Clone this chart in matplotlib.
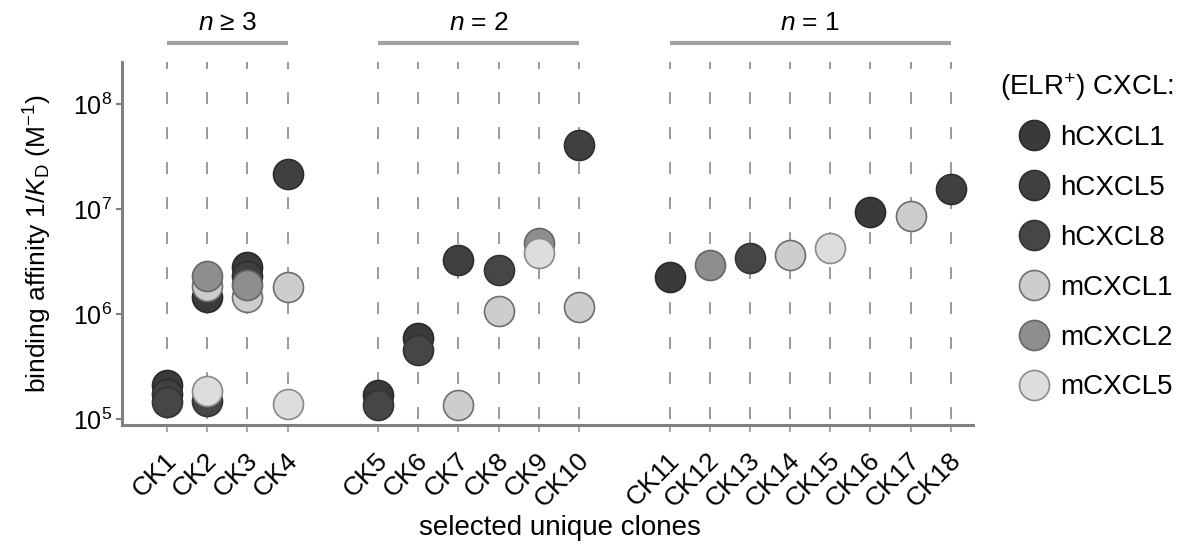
import numpy as np
import matplotlib
matplotlib.use("Agg")
import matplotlib.pyplot as plt
import matplotlib.transforms as mtransforms
from matplotlib.lines import Line2D

plt.rcParams['font.family'] = ['Liberation Sans', 'DejaVu Sans']
plt.rcParams['mathtext.fontset'] = 'custom'
plt.rcParams['mathtext.rm'] = 'Liberation Sans'
plt.rcParams['mathtext.it'] = 'Liberation Sans:italic'
plt.rcParams['lines.scale_dashes'] = False

nan = np.nan

clones = ["CK1", "CK2", "CK3", "CK4",
          "CK5", "CK6", "CK7", "CK8", "CK9", "CK10",
          "CK11", "CK12", "CK13", "CK14", "CK15", "CK16", "CK17", "CK18"]
group_sizes = [4, 6, 8]
group_labels = ["$n$ ≥ 3", "$n$ = 2", "$n$ = 1"]

# 1/KD (M^-1) per chemokine, one entry per clone
hCXCL1 = [2.1e5, 1.45e6, 2.8e6, nan, 1.7e5, 5.9e5, nan, nan, nan, nan,
          2.25e6, nan, nan, nan, nan, 9.3e6, nan, nan]
hCXCL5 = [1.75e5, nan, 2.3e6, 2.15e7, nan, nan, 3.3e6, nan, nan, 4.1e7,
          nan, nan, nan, nan, nan, nan, nan, 1.55e7]
hCXCL8 = [1.45e5, 1.5e5, nan, nan, 1.36e5, 4.5e5, nan, 2.6e6, nan, nan,
          nan, nan, 3.4e6, nan, nan, nan, nan, nan]
mCXCL1 = [nan, 1.85e6, 1.45e6, 1.8e6, nan, nan, 1.35e5, 1.07e6, nan, 1.17e6,
          nan, nan, nan, 3.65e6, nan, nan, 8.6e6, nan]
mCXCL2 = [nan, 2.3e6, 1.9e6, nan, nan, nan, nan, nan, 4.75e6, nan,
          nan, 2.9e6, nan, nan, nan, nan, nan, nan]
mCXCL5 = [nan, 1.85e5, nan, 1.4e5, nan, nan, nan, nan, 3.8e6, nan,
          nan, nan, nan, nan, 4.25e6, nan, nan, nan]

series = [
    ("hCXCL1", hCXCL1, '#3a3a3a', '#2a2a2a'),
    ("hCXCL5", hCXCL5, '#404040', '#2e2e2e'),
    ("hCXCL8", hCXCL8, '#464646', '#333333'),
    ("mCXCL1", mCXCL1, '#cdcdcd', '#6e6e6e'),
    ("mCXCL2", mCXCL2, '#8e8e8e', '#666666'),
    ("mCXCL5", mCXCL5, '#dddddd', '#8a8a8a'),
]

# x positions: clones spaced 1 apart, extra gap between groups
xpos = []
i = 0
for g, size in enumerate(group_sizes):
    for k in range(size):
        xpos.append(i + g * 1.25)
        i += 1
xpos = np.array(xpos)

fig = plt.figure(figsize=(11.86, 5.43), dpi=100)
ax = fig.add_axes([0.1029, 0.2173, 0.7175, 0.6685])

ax.set_yscale('log')
ax.set_ylim(10**4.943, 10**8.4)
ax.set_xlim(-1.12, 20.05)

for x in xpos:
    ax.axvline(x, color='#9a9a9a', lw=1.4, linestyle=(20.9, (8.6, 16.6)), zorder=1)

ms = 21.6
for name, vals, fc, ec in series:
    ax.plot(xpos, vals, linestyle='none', marker='o', ms=ms,
            markerfacecolor=fc, markeredgecolor=ec, markeredgewidth=1.2,
            zorder=3, label=name)

for s in ['top', 'right']:
    ax.spines[s].set_visible(False)
for s in ['left', 'bottom']:
    ax.spines[s].set_color('#808080')
    ax.spines[s].set_linewidth(2.2)

ax.set_yticks([1e5, 1e6, 1e7, 1e8])
ax.set_yticklabels(["$10^{5}$", "$10^{6}$", "$10^{7}$", "$10^{8}$"])
ax.yaxis.set_minor_locator(matplotlib.ticker.NullLocator())
ax.tick_params(axis='y', length=4, width=1.5, color='#808080', labelsize=18, pad=3)

ax.set_xticks(xpos)
ax.set_xticklabels(clones, rotation=45, ha='right', rotation_mode='anchor', va='center')
ax.tick_params(axis='x', length=5, width=1.2, color='#9a9a9a', labelsize=19, pad=18)
offset = mtransforms.ScaledTranslation(6 / 100, 0, fig.dpi_scale_trans)
for lab in ax.get_xticklabels():
    lab.set_transform(lab.get_transform() + offset)

ax.set_ylabel("binding affinity 1/$K_{\\mathrm{D}}$ (M$^{-1}$)", fontsize=19, labelpad=14)
fig.text(0.472, 1 - 528 / 543, "selected unique clones", fontsize=20, ha='center', va='center')

# group brackets above the axes
start = 0
for size, lab in zip(group_sizes, group_labels):
    x0, x1 = xpos[start], xpos[start + size - 1]
    ax.plot([x0, x1], [10**8.58, 10**8.58], color='#a0a0a0', lw=3,
            clip_on=False, solid_capstyle='butt')
    ax.text((x0 + x1) / 2, 10**8.77, lab, fontsize=19, ha='center', va='center')
    start += size

handles = [Line2D([], [], linestyle='none', marker='o', ms=ms, markerfacecolor=fc,
                  markeredgecolor=ec, markeredgewidth=1.2)
           for name, vals, fc, ec in series]
fig.text(1000 / 1186, 1 - 87 / 543, "(ELR$^{+}$) CXCL:", fontsize=20, ha='left', va='center')
fig.legend(handles, [s[0] for s in series], loc='upper left',
           bbox_to_anchor=(1017 / 1186, 1 - 125 / 543), frameon=False,
           fontsize=20, handlelength=1.2, handletextpad=0.35,
           labelspacing=0.86, borderpad=0, borderaxespad=0)

fig.savefig("out.png", dpi=100)
